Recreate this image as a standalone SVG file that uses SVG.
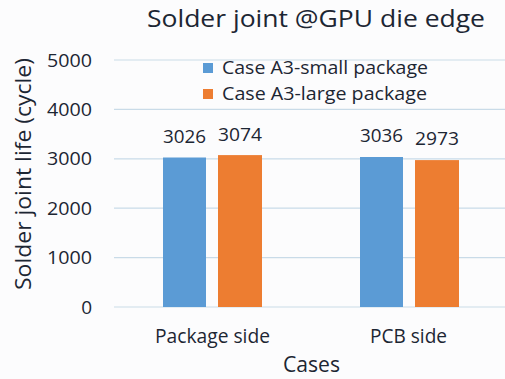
<svg xmlns="http://www.w3.org/2000/svg" width="505" height="379" viewBox="0 0 505 379">
<style>
text{font-family:"Open Sans","Noto Sans","DejaVu Sans",sans-serif;fill:#1c2633}
.tick{font-size:19px;text-anchor:end}
.val{font-size:19px;text-anchor:middle}
.grid{stroke:#c9dbe8;stroke-width:1.2}
.blue{fill:#5b9bd5}
.orange{fill:#ed7d31}
</style>
<rect width="505" height="379" fill="#fcfcfd"/>
<g id="gridlines">
<line class="grid" x1="114" y1="60" x2="505" y2="60"/>
<line class="grid" x1="114" y1="109.4" x2="505" y2="109.4"/>
<line class="grid" x1="114" y1="158.8" x2="505" y2="158.8"/>
<line class="grid" x1="114" y1="208.2" x2="505" y2="208.2"/>
<line class="grid" x1="114" y1="257.6" x2="505" y2="257.6"/>
<line class="grid" x1="114" y1="307" x2="505" y2="307"/>
</g>
<text x="316" y="27" font-size="24.5" text-anchor="middle" textLength="338" lengthAdjust="spacingAndGlyphs">Solder joint @GPU die edge</text>
<g id="yaxis">
<text class="tick" x="92" y="67" textLength="45" lengthAdjust="spacingAndGlyphs">5000</text>
<text class="tick" x="92" y="116" textLength="45" lengthAdjust="spacingAndGlyphs">4000</text>
<text class="tick" x="92" y="165" textLength="45" lengthAdjust="spacingAndGlyphs">3000</text>
<text class="tick" x="92" y="215" textLength="45" lengthAdjust="spacingAndGlyphs">2000</text>
<text class="tick" x="92" y="264" textLength="45" lengthAdjust="spacingAndGlyphs">1000</text>
<text class="tick" x="92" y="314">0</text>
<text transform="translate(31,174) rotate(-90)" font-size="22.5" text-anchor="middle" textLength="232" lengthAdjust="spacingAndGlyphs">Solder joint life (cycle)</text>
</g>
<g id="legend">
<rect class="blue" x="203" y="63" width="10" height="10"/>
<text x="222" y="74" font-size="19" textLength="206" lengthAdjust="spacingAndGlyphs">Case A3-small package</text>
<rect class="orange" x="203" y="89" width="10" height="10"/>
<text x="222" y="100" font-size="19" textLength="205" lengthAdjust="spacingAndGlyphs">Case A3-large package</text>
</g>
<g id="bars">
<g id="pkg-small"><rect class="blue" x="163" y="157.5" width="43" height="149.5"/><text class="val" x="184.5" y="142.5" textLength="43" lengthAdjust="spacingAndGlyphs">3026</text></g>
<g id="pkg-large"><rect class="orange" x="218" y="155.1" width="44" height="151.9"/><text class="val" x="240" y="140.5" textLength="44" lengthAdjust="spacingAndGlyphs">3074</text></g>
<g id="pcb-small"><rect class="blue" x="360" y="157" width="43" height="150"/><text class="val" x="381.5" y="142" textLength="43" lengthAdjust="spacingAndGlyphs">3036</text></g>
<g id="pcb-large"><rect class="orange" x="415" y="160.1" width="44" height="146.9"/><text class="val" x="437" y="145" textLength="44" lengthAdjust="spacingAndGlyphs">2973</text></g>
</g>
<g id="xaxis">
<text x="212.5" y="343" font-size="20.5" text-anchor="middle" textLength="115" lengthAdjust="spacingAndGlyphs">Package side</text>
<text x="408.5" y="343" font-size="20.5" text-anchor="middle" textLength="77" lengthAdjust="spacingAndGlyphs">PCB side</text>
<text x="311.5" y="372" font-size="21.5" text-anchor="middle" textLength="57" lengthAdjust="spacingAndGlyphs">Cases</text>
</g>
</svg>
